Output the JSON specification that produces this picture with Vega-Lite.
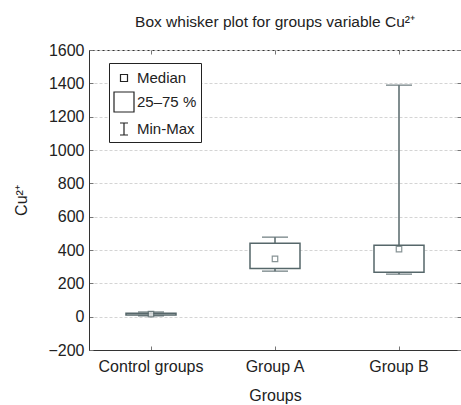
{
  "$schema": "https://vega.github.io/schema/vega-lite/v6.json",
  "width": 372,
  "height": 300,
  "autosize": {"type": "none"},
  "padding": {"left": 89, "top": 50, "right": 0, "bottom": 55},
  "config": {
    "font": "Liberation Sans",
    "view": {"stroke": "#333333", "strokeWidth": 1},
    "axis": {"labelFont": "Liberation Sans", "titleFont": "Liberation Sans", "labelFontSize": 16, "titleFontSize": 16, "labelColor": "#222222", "titleColor": "#222222", "titleFontWeight": "normal", "domainColor": "#333333", "tickColor": "#777777"},
    "legend": {"labelFont": "Liberation Sans", "labelFontSize": 15, "labelColor": "#222222"}
  },
  "title": {"text": "Box whisker plot for groups variable Cu²⁺", "fontSize": 15.5, "fontWeight": "normal", "font": "Liberation Sans", "color": "#222222", "anchor": "middle", "offset": 12},
  "data": {"values": [
    {"group": "Control groups", "min": 5, "q1": 10, "median": 15, "q3": 20, "max": 28},
    {"group": "Group A", "min": 273, "q1": 289, "median": 347, "q3": 441, "max": 477},
    {"group": "Group B", "min": 255, "q1": 267, "median": 405, "q3": 429, "max": 1389}
  ]},
  "resolve": {"axis": {"x": "independent", "y": "independent"}},
  "layer": [
    {
      "mark": {"type": "rule", "stroke": "#56676a", "strokeWidth": 1.5},
      "encoding": {
        "x": {"field": "group", "type": "nominal", "sort": ["Control groups", "Group A", "Group B"], "scale": {"paddingInner": 0, "paddingOuter": 0}, "axis": {"title": "Groups", "labelAngle": 0, "tickSize": -4, "labelPadding": 12, "titlePadding": 13, "domainColor": "#333333"}},
        "y": {"field": "min", "type": "quantitative", "scale": {"domain": [-200, 1600], "nice": false, "zero": false}, "axis": {"title": "Cu²⁺", "format": "d", "values": [-200, 0, 200, 400, 600, 800, 1000, 1200, 1400, 1600], "tickSize": -4, "labelPadding": 9, "titlePadding": 18, "grid": true, "gridColor": "#d4d4d4", "gridDash": [3, 2], "gridWidth": 1}},
        "y2": {"field": "max"}
      }
    },
    {
      "mark": {"type": "bar", "size": 50, "fill": "white", "stroke": "#56676a", "strokeWidth": 1.5},
      "encoding": {
        "x": {"field": "group", "type": "nominal", "sort": ["Control groups", "Group A", "Group B"], "axis": {"orient": "top", "labels": false, "title": null, "tickSize": -4, "domain": false, "grid": false}},
        "y": {"field": "q1", "type": "quantitative", "axis": {"orient": "right", "labels": false, "title": null, "tickSize": -4, "domain": false, "grid": false, "values": [-200, 0, 200, 400, 600, 800, 1000, 1200, 1400, 1600]}},
        "y2": {"field": "q3"}
      }
    },
    {
      "mark": {"type": "tick", "size": 26, "thickness": 1.5, "color": "#56676a"},
      "encoding": {
        "x": {"field": "group", "type": "nominal", "sort": ["Control groups", "Group A", "Group B"], "axis": null},
        "y": {"field": "min", "type": "quantitative", "axis": null}
      }
    },
    {
      "mark": {"type": "tick", "size": 26, "thickness": 1.5, "color": "#56676a"},
      "encoding": {
        "x": {"field": "group", "type": "nominal", "sort": ["Control groups", "Group A", "Group B"], "axis": null},
        "y": {"field": "max", "type": "quantitative", "axis": null}
      }
    },
    {
      "mark": {"type": "point", "shape": "square", "size": 30, "filled": true, "fill": "white", "stroke": "#56676a", "strokeWidth": 1.2},
      "encoding": {
        "x": {"field": "group", "type": "nominal", "sort": ["Control groups", "Group A", "Group B"], "axis": null},
        "y": {"field": "median", "type": "quantitative", "axis": null}
      }
    },
    {
      "data": {"values": [{"item": "Median"}, {"item": "25–75 %"}, {"item": "Min-Max"}]},
      "mark": {"type": "point", "filled": false, "color": "#222222", "size": 400, "opacity": 0, "strokeWidth": 1.2},
      "encoding": {
        "shape": {"field": "item", "type": "nominal",
          "scale": {"domain": ["Median", "25–75 %", "Min-Max"], "range": ["M-0.35,-0.35H0.35V0.35H-0.35Z", "M-1,-1H1V1H-1Z", "M-0.4,-0.6H0.4M0,-0.6V0.6M-0.4,0.6H0.4"]},
          "legend": {"title": null, "orient": "none", "legendX": 20, "legendY": 13, "strokeColor": "#222222", "padding": 4, "rowPadding": 3, "symbolSize": 400, "symbolOpacity": 1, "symbolStrokeColor": "#222222", "symbolStrokeWidth": 1.2, "symbolFillColor": "transparent", "labelOffset": 2, "fillColor": "white"}
        }
      }
    }
  ]
}
